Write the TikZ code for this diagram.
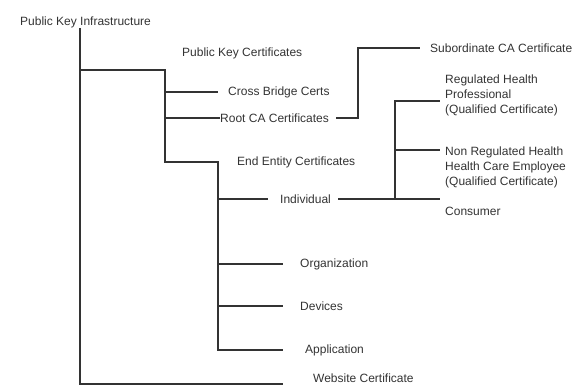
\documentclass[tikz,border=0pt]{standalone}
\usepackage{fontspec}
\setmainfont{Liberation Sans}
\usetikzlibrary{calc}

\begin{document}
\begin{tikzpicture}[x=1pt, y=-1pt,
		label/.style = {anchor=west, inner sep=0pt, text=black!80, font=\fontsize{12}{15}\selectfont},
		branch/.style = {draw=black!80, line width=1.2pt}]
					\useasboundingbox (0,0) rectangle (579,387);

					\def\xTRUNK{80};
					\def\xPKC{165};
					\def\xEEC{218};

					% labels
					\node [label] (pki) at (20,22) {Public Key Infrastructure};
					\node [label] (pkc) at (182,53) {Public Key Certificates};
					\node [label] (cross) at (228,92) {Cross Bridge Certs};
					\node [label] (root) at (220,118) {Root CA Certificates};
					\node [label] (sub) at (430,48) {Subordinate CA Certificate};
					\node [label] (eec) at (237,162) {End Entity Certificates};
					\node [label] (indiv) at (280,199) {Individual};
					\node [label, align=left] (reg) at (445,95) {Regulated Health\\Professional\\(Qualified Certificate)};
					\node [label, align=left] (nonreg) at (445,167) {Non Regulated Health\\Health Care Employee\\(Qualified Certificate)};
					\node [label] (cons) at (445,211) {Consumer};
					\node [label] (org) at (300,264) {Organization};
					\node [label] (dev) at (300,306) {Devices};
					\node [label] (app) at (305,350) {Application};
					\node [label] (web) at (313,378) {Website Certificate};

					\coordinate (trunk) at (\xTRUNK,28);
					\coordinate (webj) at (283,384);
					\coordinate (pkcj) at (\xPKC,70);
					\coordinate (eecj) at (\xEEC,162);
					\coordinate (subj) at (358,118);
					\coordinate (indj) at (395,199);
					\coordinate (regj) at (440,101);
					\coordinate (nonregj) at (440,150);

					\begin{scope}[branch]
						\draw (trunk) |- (webj);
						\draw (trunk |- pkcj) -- (pkcj) |- ([xshift=-10pt]cross.west);
						\draw (pkcj |- root) -- (root.west);
						\draw (pkcj) |- (eecj) |- ([xshift=-22pt]app.west);
					\end{scope}

					\begin{scope}[branch]
						\draw ([xshift=7pt]root.east) -- (subj) |- ([xshift=-10pt]sub.west);
						\draw (eecj |- indiv) -- ([xshift=-12pt]indiv.west);
						\draw (eecj |- org) -- ([xshift=-17pt]org.west);
						\draw (eecj |- dev) -- ([xshift=-17pt]dev.west);
						\draw ([xshift=7pt]indiv.east) -- (indiv -| regj);
						\draw (indj) |- (regj);
						\draw (indj |- nonregj) -- (nonregj);
					\end{scope}
				\end{tikzpicture}
\end{document}
